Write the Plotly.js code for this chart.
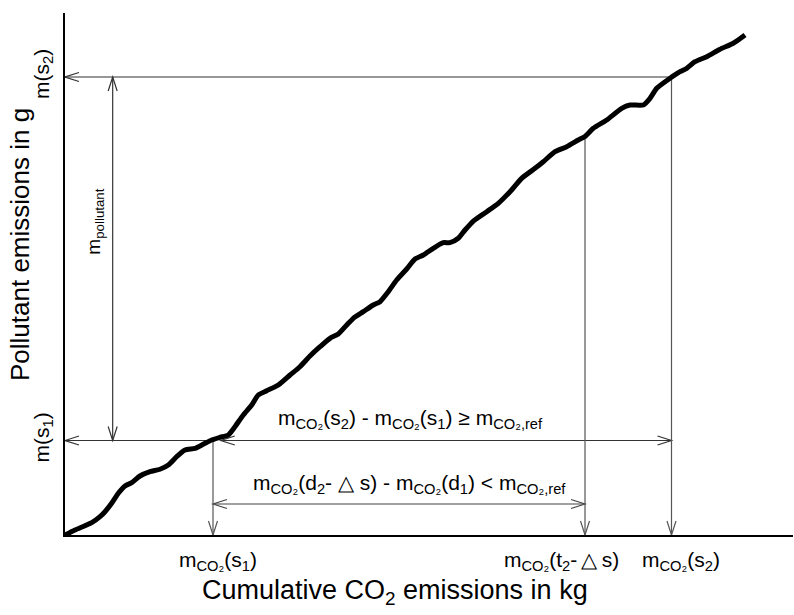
<!DOCTYPE html>
<html>
<head>
<meta charset="utf-8">
<script src="https://cdn.plot.ly/plotly-3.0.1.min.js"></script>
<style>html,body{margin:0;padding:0;background:#fff;}#chart{width:794px;height:615px;}</style>
</head>
<body>
<div id="chart"></div>
<script>
// Cumulative CO2 emissions (x) vs cumulative pollutant emissions (y), arbitrary units
const co2Cum = [0,1.37,3.67,4.81,5.49,6.41,7.32,8.24,9.16,10.30,11.68,13.05,14.19,15.34,16.48,17.86,18.99,20.15,21.29,22.43,23.35,24.49,25.65,26.55,27.71,29.30,30.91,32.28,33.65,35.03,36.40,37.54,38.70,39.60,40.98,42.35,43.27,44.41,45.56,46.94,48.08,49.22,50.59,51.96,52.88,54.02,54.95,56.09,57.93,59.52,61.13,62.73,64.56,65.70,67.31,68.92,70.51,71.43,72.57,74.41,76.47,77.61,79.44,80.36,81.28,83.10,84.48,85.40,86.54,88.15,89.97,91.80,93.41];
const pollutantCum = [0,0.96,2.36,3.51,4.46,6.07,7.99,9.39,10.02,11.30,12.13,12.59,13.41,15.00,16.28,16.61,17.38,18.20,18.72,19.16,20.75,22.99,24.90,26.82,27.64,28.74,30.65,32.24,34.29,36.07,37.68,38.51,40.23,41.51,42.78,44.06,44.69,46.61,48.85,50.96,52.87,53.64,54.92,56.00,56.00,56.84,58.43,60.15,61.94,63.54,65.77,68.33,70.25,71.51,73.43,74.39,75.67,76.34,77.91,79.50,81.74,82.38,82.38,83.66,85.57,87.49,88.76,89.41,90.67,91.63,93.05,94.20,95.79];

// Marked points
const xMarks = [20.33, 71.43, 83.31];          // mCO2(s1), mCO2(t2-Δs), mCO2(s2)
const xMarkLabels = ['m<sub>CO₂</sub>(s<sub>1</sub>)', 'm<sub>CO₂</sub>(t<sub>2</sub>-\u2009△\u2009s)', 'm<sub>CO₂</sub>(s<sub>2</sub>)'];
const xLabelShift = [5, -24, 9];               // horizontal offset of each label (px)
const yMarks = [18.10, 87.74];                 // m(s1), m(s2)
const yMarkLabels = ['m(s<sub>1</sub>)', 'm(s<sub>2</sub>)'];
const yAtT2 = 76.34;                           // curve level at t2-Δs
const refArrowLevel = 5.94;                    // lower arrow level
const pollutantArrowX = 6.55;
const upperArrowStart = 21.4;

const X_RANGE = [0, 100], Y_RANGE = [0, 100];
const M = {l: 65, r: 1, t: 13, b: 80};
const W = 794, H = 615;
const PW = W - M.l - M.r, PH = H - M.t - M.b;
const pxX = PW / (X_RANGE[1] - X_RANGE[0]);
const pxY = PH / (Y_RANGE[1] - Y_RANGE[0]);

const LC = '#333';
const shapes = [];
function seg(x0, y0, x1, y1, col) {
  shapes.push({type: 'line', xref: 'x', yref: 'y', x0, y0, x1, y1, layer: 'below',
    line: {color: col || LC, width: 1.2}});
}
const AL = 14, AH = 4.5; // arrowhead length & half-width in px
function head(xt, yt, dir, col) {
  let p1, p2;
  if (dir === 'l') { p1 = [xt + AL / pxX, yt + AH / pxY]; p2 = [xt + AL / pxX, yt - AH / pxY]; }
  if (dir === 'r') { p1 = [xt - AL / pxX, yt + AH / pxY]; p2 = [xt - AL / pxX, yt - AH / pxY]; }
  if (dir === 'd') { p1 = [xt - AH / pxX, yt + AL / pxY]; p2 = [xt + AH / pxX, yt + AL / pxY]; }
  if (dir === 'u') { p1 = [xt - AH / pxX, yt - AL / pxY]; p2 = [xt + AH / pxX, yt - AL / pxY]; }
  shapes.push({type: 'path', xref: 'x', yref: 'y', layer: 'below',
    path: `M${p1[0]},${p1[1]} L${xt},${yt} L${p2[0]},${p2[1]}`,
    line: {color: col || LC, width: 1.2}});
}

const [xs1, xt2, xs2] = xMarks;
const [ys1, ys2] = yMarks;
seg(xs2, ys2, 0, ys2); head(0, ys2, 'l');
seg(xs1, ys1, 0, ys1); head(0, ys1, 'l');
seg(upperArrowStart, ys1, xs2, ys1); head(upperArrowStart, ys1, 'l'); head(xs2, ys1, 'r');
seg(pollutantArrowX, ys1, pollutantArrowX, ys2); head(pollutantArrowX, ys2, 'u'); head(pollutantArrowX, ys1, 'd');
seg(xs1, refArrowLevel, xt2, refArrowLevel, '#444'); head(xs1, refArrowLevel, 'l', '#444'); head(xt2, refArrowLevel, 'r', '#444');
seg(xs1, ys1, xs1, 0, '#555'); head(xs1, 0, 'd', '#555');
seg(xt2, yAtT2, xt2, 0, '#555'); head(xt2, 0, 'd', '#555');
seg(xs2, ys2, xs2, 0, '#555'); head(xs2, 0, 'd', '#555');

const FONT = 'Liberation Sans, Arial, sans-serif';
const annotations = [
  {xref: 'x', yref: 'y', x: 47.5, y: 22.3, text: 'm<sub>CO₂</sub>(s<sub>2</sub>) - m<sub>CO₂</sub>(s<sub>1</sub>) ≥ m<sub>CO₂,ref</sub>',
   showarrow: false, font: {size: 21, color: '#000', family: FONT}},
  {xref: 'x', yref: 'y', x: 47.3, y: 9.7, text: 'm<sub>CO₂</sub>(d<sub>2</sub>- △ s) - m<sub>CO₂</sub>(d<sub>1</sub>) &lt; m<sub>CO₂,ref</sub>',
   showarrow: false, font: {size: 21, color: '#000', family: FONT}},
  {xref: 'x', yref: 'y', x: 4.1, y: 60, text: 'm<sub>pollutant</sub>', textangle: -90,
   showarrow: false, font: {size: 19, color: '#000', family: FONT}},
  {xref: 'paper', yref: 'paper', x: (395 - M.l) / PW, y: -(592 - (H - M.b)) / PH,
   text: 'Cumulative CO<sub>2</sub> emissions in kg', showarrow: false, xanchor: 'center', yanchor: 'middle',
   font: {size: 27, color: '#000', family: FONT}},
  {xref: 'paper', yref: 'paper', x: -(M.l - 20) / PW, y: ((H - M.b) - 245) / PH,
   text: 'Pollutant emissions in g', textangle: -90, showarrow: false, xanchor: 'center', yanchor: 'middle',
   font: {size: 26, color: '#000', family: FONT}}
];
// x-axis mark labels
xMarks.forEach((xv, i) => {
  annotations.push({xref: 'x', yref: 'paper', x: xv, y: -(561 - (H - M.b)) / PH, xshift: xLabelShift[i],
    text: xMarkLabels[i], showarrow: false, xanchor: 'center', yanchor: 'middle',
    font: {size: 21, color: '#000', family: FONT}});
});

const trace = {x: co2Cum, y: pollutantCum, mode: 'lines', type: 'scatter',
  line: {color: '#000', width: 5, shape: 'spline', smoothing: 0.6}, hoverinfo: 'skip'};

const layout = {
  width: W, height: H, margin: M, showlegend: false,
  paper_bgcolor: '#fff', plot_bgcolor: '#fff',
  font: {family: FONT, color: '#000'},
  xaxis: {range: X_RANGE, showgrid: false, zeroline: false, showline: true, linecolor: '#000', linewidth: 2,
    tickmode: 'array', tickvals: xMarks, showticklabels: false, ticks: '', fixedrange: true},
  yaxis: {range: Y_RANGE, showgrid: false, zeroline: false, showline: true, linecolor: '#000', linewidth: 2,
    tickmode: 'array', tickvals: yMarks, ticktext: yMarkLabels, ticks: '', tickangle: -90, ticklabelstandoff: 6,
    tickfont: {size: 21, family: FONT, color: '#000'}, fixedrange: true},
  shapes, annotations
};
Plotly.newPlot('chart', [trace], layout, {staticPlot: true});
</script>
</body>
</html>
